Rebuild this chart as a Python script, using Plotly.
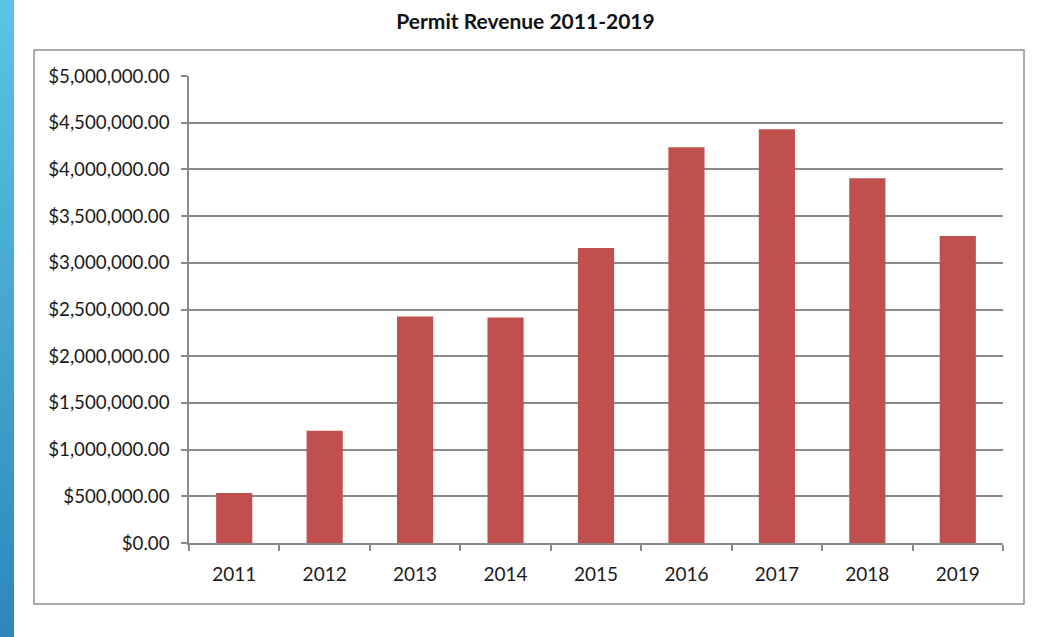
import plotly.graph_objects as go
import base64

years = ["2011", "2012", "2013", "2014", "2015", "2016", "2017", "2018", "2019"]
revenue = [536000, 1202000, 2425000, 2414000, 3159000, 4238000, 4431000, 3906000, 3288000]

W, H = 1045, 637
L, R, T, B = 189, 1003, 76, 543

fig = go.Figure(go.Bar(x=years, y=revenue, marker=dict(color="#C0504D", line=dict(width=0)), width=0.4))

def px(x):
    return (x - L) / (R - L)

def py(y):
    return (B - y) / (B - T)

svg = ('<svg xmlns="http://www.w3.org/2000/svg" width="14" height="637">'
       '<defs><linearGradient id="g" x1="0" y1="0" x2="0" y2="1">'
       '<stop offset="0" stop-color="#5CC4E4"/><stop offset="1" stop-color="#2D88B8"/>'
       '</linearGradient></defs><rect width="14" height="637" fill="url(#g)"/></svg>')
src = "data:image/svg+xml;base64," + base64.b64encode(svg.encode()).decode()

fig.update_layout(
    width=W, height=H,
    margin=dict(l=L, r=W - R, t=T, b=H - B, pad=0),
    paper_bgcolor="white", plot_bgcolor="white",
    showlegend=False,
    bargap=0.6,
    font=dict(family="Lato, Carlito, sans-serif", size=19, color="#1a1a1a"),
    title=dict(text="<b>Permit Revenue 2011-2019</b>", x=px(525.5), xref="paper",
               y=1 - 22 / H, yanchor="middle", xanchor="center",
               font=dict(size=21, family="Lato, sans-serif", color="#111")),
    xaxis=dict(showline=True, linecolor="#8a8a8a", linewidth=1.5, ticks="outside",
               tickson="boundaries", ticklen=6, tickcolor="#8a8a8a", tickwidth=1.5,
               showgrid=False, ticklabelstandoff=13, fixedrange=True),
    yaxis=dict(range=[0, 5000000], dtick=500000, tickformat="$,.2f",
               tickfont=dict(size=18.7),
               showline=True, linecolor="#8a8a8a", linewidth=1.5, ticks="outside",
               ticklen=6, tickcolor="#8a8a8a", tickwidth=1.5,
               showgrid=True, gridcolor="#8a8a8a", gridwidth=1.5,
               ticklabelstandoff=8, zeroline=False, fixedrange=True),
    shapes=[dict(type="rect", xref="paper", yref="paper",
                 x0=px(34), x1=px(1024), y0=py(604), y1=py(50),
                 line=dict(color="#8f8f8f", width=1.5), fillcolor="rgba(0,0,0,0)", layer="below")],
    images=[dict(source=src, xref="paper", yref="paper", x=px(0), y=py(0),
                 sizex=px(14) - px(0), sizey=py(0) - py(637), xanchor="left", yanchor="top",
                 sizing="stretch", layer="below")],
)

fig.write_html("out.html", config={"displayModeBar": False},
               post_script="document.body.style.margin='0';document.body.style.overflow='hidden';")
